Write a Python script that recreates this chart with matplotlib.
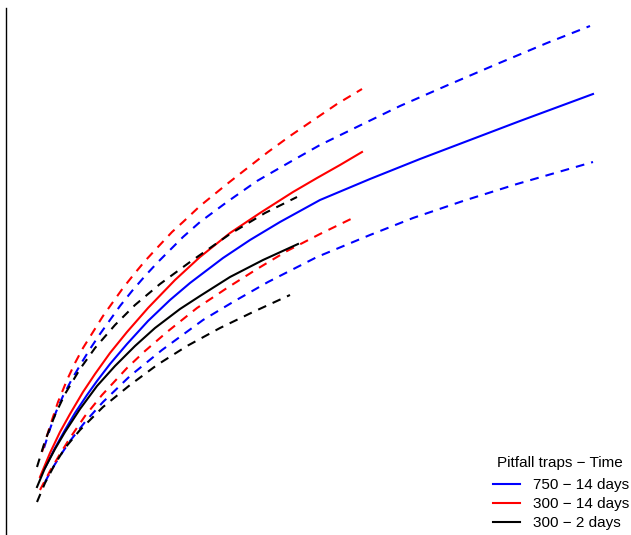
#!/usr/bin/env python3
"""
Rarefaction curves (mean and confidence bounds) for three pitfall trap designs
"""

import matplotlib
matplotlib.use("Agg")
import matplotlib.pyplot as plt

plt.rcParams['font.family'] = ['Liberation Sans', 'DejaVu Sans']

# 750 traps - 14 days (blue)
blue_x = [39, 49, 59, 69, 81, 91, 104, 121, 142, 164, 184, 217, 244, 274, 314, 364, 414, 464, 514, 587]
blue_y = [6.7, 8.7, 10.5, 12.2, 14.0, 15.4, 17.1, 19.1, 21.4, 23.5, 25.2, 27.7, 29.5, 31.3, 33.5, 35.6, 37.6,
          39.5, 41.4, 44.1]
blue_up_x = [38, 44, 50, 57, 66, 76, 84, 94, 104, 114, 126, 139, 152, 166, 177, 194, 221, 251, 284, 314, 359,
             394, 442, 491, 541, 584]
blue_up_y = [8.7, 10.6, 12.3, 13.9, 15.6, 17.3, 18.6, 20.1, 21.5, 22.9, 24.4, 25.9, 27.3, 28.7, 29.8, 31.3,
             33.3, 35.4, 37.3, 39.0, 41.2, 42.9, 45.0, 47.1, 49.2, 50.9]
blue_lo_x = [39, 46, 54, 64, 79, 97, 124, 156, 197, 227, 262, 311, 364, 407, 457, 511, 587]
blue_lo_y = [5.3, 6.6, 7.9, 9.4, 11.3, 13.3, 15.9, 18.5, 21.5, 23.3, 25.3, 27.8, 30.0, 31.7, 33.4, 35.1, 37.3]

# 300 traps - 14 days (red)
red_x = [34, 44, 54, 64, 77, 89, 104, 121, 142, 169, 194, 224, 254, 287, 311, 334, 356]
red_y = [5.8, 8.2, 10.3, 12.1, 14.3, 16.1, 18.2, 20.3, 22.7, 25.5, 27.8, 30.2, 32.2, 34.3, 35.7, 37.0, 38.3]
red_up_x = [36, 44, 52, 61, 69, 77, 87, 97, 107, 117, 129, 139, 151, 166, 177, 194, 221, 244, 262, 284, 306,
            331, 356]
red_up_y = [8.3, 10.9, 13.3, 15.5, 17.2, 18.7, 20.3, 21.9, 23.3, 24.7, 26.2, 27.4, 28.7, 30.3, 31.3, 32.9,
            35.1, 36.9, 38.3, 39.9, 41.4, 43.1, 44.6]
red_lo_x = [34, 44, 54, 64, 79, 96, 121, 139, 161, 191, 221, 251, 281, 314, 349]
red_lo_y = [4.5, 6.4, 8.1, 9.7, 11.9, 14.0, 16.7, 18.4, 20.3, 22.7, 24.7, 26.6, 28.4, 30.1, 31.8]

# 300 traps - 2 days (black)
black_x = [31, 39, 49, 59, 74, 91, 109, 129, 149, 174, 194, 224, 257, 292]
black_y = [4.8, 6.7, 8.6, 10.3, 12.6, 14.9, 16.9, 18.9, 20.7, 22.6, 23.9, 25.8, 27.5, 29.1]
black_up_x = [31, 39, 49, 59, 74, 89, 109, 129, 154, 184, 224, 259, 291]
black_up_y = [6.8, 9.4, 12.0, 14.1, 16.6, 18.7, 21.0, 23.0, 25.1, 27.3, 30.1, 32.2, 33.8]
black_lo_x = [31, 39, 49, 59, 74, 97, 124, 151, 181, 214, 247, 284]
black_lo_y = [3.3, 5.2, 7.1, 8.7, 10.5, 12.8, 15.0, 17.0, 18.9, 20.7, 22.3, 24.0]

labels = ['750 \u2212 14 days', '300 \u2212 14 days', '300 \u2212 2 days']
legend_title = 'Pitfall traps \u2212 Time'

fig = plt.figure(figsize=(6.31, 5.35), dpi=100)
ax = fig.add_axes([6 / 631, 0, 625 / 631, 527 / 535])

lw = 1.5
dash = (4.2, 3.4)

series = [
    ('blue', blue_x, blue_y, blue_up_x, blue_up_y, blue_lo_x, blue_lo_y),
    ('red', red_x, red_y, red_up_x, red_up_y, red_lo_x, red_lo_y),
    ('black', black_x, black_y, black_up_x, black_up_y, black_lo_x, black_lo_y),
]

handles = []
for (col, x, y, ux, uy, lx, ly), lab in zip(series, labels):
    h, = ax.plot(x, y, color=col, linewidth=lw, label=lab, solid_joinstyle='round')
    ax.plot(ux, uy, color=col, linewidth=lw, dashes=dash)
    ax.plot(lx, ly, color=col, linewidth=lw, dashes=dash)
    handles.append(h)

ax.set_xlim(0, 625)
ax.set_ylim(0, 52.7)
ax.set_xticks([])
ax.set_yticks([])
for side in ['top', 'right', 'bottom']:
    ax.spines[side].set_visible(False)
ax.spines['left'].set_linewidth(1.0)

# legend title drawn on its own so the gap above the first row matches
fig.text(560 / 631, 1 - 463 / 535, legend_title, fontsize=11, ha='center', va='center')
fig.legend(handles=handles, labels=labels,
           loc='upper left', bbox_to_anchor=(493 / 631, 1 - 478 / 535),
           frameon=False, fontsize=11,
           handlelength=1.77, handletextpad=0.85, labelspacing=0.33,
           borderpad=0, borderaxespad=0)

fig.savefig('out.png', dpi=100)
